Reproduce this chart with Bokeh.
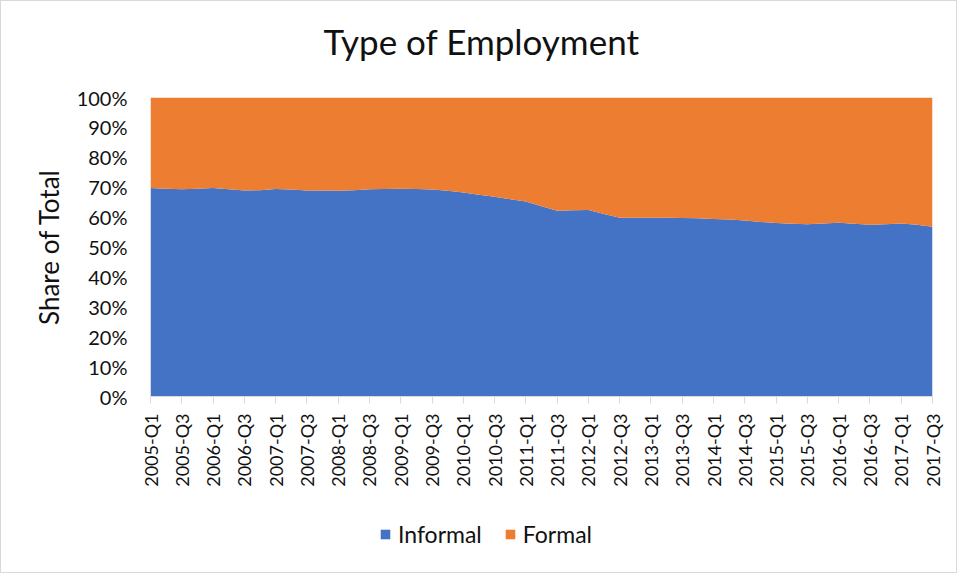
from math import pi
from bokeh.plotting import figure
from bokeh.layouts import column
from bokeh.models import ColumnDataSource, FixedTicker, Label, Legend, LegendItem, PrintfTickFormatter, Range1d
from bokeh.embed import file_html
from bokeh.resources import INLINE

quarters = [
    "2005-Q1", "2005-Q2", "2005-Q3", "2005-Q4",
    "2006-Q1", "2006-Q2", "2006-Q3", "2006-Q4",
    "2007-Q1", "2007-Q2", "2007-Q3", "2007-Q4",
    "2008-Q1", "2008-Q2", "2008-Q3", "2008-Q4",
    "2009-Q1", "2009-Q2", "2009-Q3", "2009-Q4",
    "2010-Q1", "2010-Q2", "2010-Q3", "2010-Q4",
    "2011-Q1", "2011-Q2", "2011-Q3", "2011-Q4",
    "2012-Q1", "2012-Q2", "2012-Q3", "2012-Q4",
    "2013-Q1", "2013-Q2", "2013-Q3", "2013-Q4",
    "2014-Q1", "2014-Q2", "2014-Q3", "2014-Q4",
    "2015-Q1", "2015-Q2", "2015-Q3", "2015-Q4",
    "2016-Q1", "2016-Q2", "2016-Q3", "2016-Q4",
    "2017-Q1", "2017-Q2", "2017-Q3",
]

informal = [
    69.7, 69.5, 69.3, 69.5, 69.7, 69.3, 68.9, 69.0, 69.4, 69.2,
    68.9, 68.9, 68.8, 69.0, 69.3, 69.4, 69.5, 69.4, 69.2, 68.8,
    68.2, 67.5, 66.8, 66.0, 65.2, 63.6, 62.1, 62.3, 62.4, 61.0,
    59.8, 59.8, 59.8, 59.8, 59.7, 59.6, 59.4, 59.2, 58.9, 58.4,
    58.0, 57.8, 57.6, 57.9, 58.1, 57.8, 57.4, 57.6, 57.9, 57.4,
    56.8,
]

formal = [
    30.3, 30.5, 30.7, 30.5, 30.3, 30.7, 31.1, 31.0, 30.6, 30.8,
    31.1, 31.1, 31.2, 31.0, 30.7, 30.6, 30.5, 30.6, 30.8, 31.2,
    31.8, 32.5, 33.2, 34.0, 34.8, 36.4, 37.9, 37.7, 37.6, 39.0,
    40.2, 40.2, 40.2, 40.2, 40.3, 40.4, 40.6, 40.8, 41.1, 41.6,
    42.0, 42.2, 42.4, 42.1, 41.9, 42.2, 42.6, 42.4, 42.1, 42.6,
    43.2,
]

title_text = "Type of Employment"
y_title = "Share of Total"
series_names = ["Informal", "Formal"]
series_colors = ["#4472C4", "#ED7D31"]
y_ticks = [0, 10, 20, 30, 40, 50, 60, 70, 80, 90, 100]

FONT = "Lato"
TEXT = "#111111"
BORDER = "1px solid #d9d9d9"
W = 957


def strip(height):
    f = figure(
        width=W, height=height,
        x_range=Range1d(0, 1), y_range=Range1d(0, 1),
        output_backend="svg", toolbar_location=None, min_border=0,
    )
    f.axis.visible = False
    f.xgrid.visible = False
    f.ygrid.visible = False
    f.outline_line_color = None
    return f


# ---- title strip ----
p0 = strip(80)
p0.styles = {"border": BORDER, "border-bottom": "none"}
p0.add_layout(Label(
    x=331, y=41, x_units="screen", y_units="screen",
    text=title_text, text_align="center", text_baseline="alphabetic",
    text_font=FONT, text_font_size="35px", text_color=TEXT,
))

# ---- main chart ----
idx = list(range(len(quarters)))
src = ColumnDataSource(data=dict(x=idx, informal=informal, formal=formal))

p = figure(
    width=W, height=420,
    x_range=Range1d(0, len(quarters) - 1), y_range=Range1d(0, 100),
    output_backend="svg", toolbar_location=None,
    min_border_left=149, min_border_right=26,
    min_border_top=17, min_border_bottom=104,
)
p.styles = {"border-left": BORDER, "border-right": BORDER}

rs = p.varea_stack(stackers=["informal", "formal"], x="x", source=src, color=series_colors)

p.xgrid.visible = False
p.ygrid.visible = False
p.outline_line_color = None

xa = p.xaxis[0]
tick_idx = idx[::2]
xa.ticker = FixedTicker(ticks=tick_idx)
xa.major_label_overrides = {i: quarters[i] for i in tick_idx}
xa.major_label_orientation = pi / 2
xa.axis_line_color = "#d9d9d9"
xa.major_tick_line_color = "#d9d9d9"
xa.major_tick_in = 0
xa.major_tick_out = 7
xa.minor_tick_line_color = None
xa.major_label_standoff = 10
xa.major_label_text_font = FONT
xa.major_label_text_font_size = "18px"
xa.major_label_text_color = TEXT

ya = p.yaxis[0]
ya.ticker = FixedTicker(ticks=y_ticks)
ya.formatter = PrintfTickFormatter(format="%d%%")
ya.axis_line_color = None
ya.major_tick_line_color = None
ya.minor_tick_line_color = None
ya.major_label_standoff = 17
ya.major_label_text_font = FONT
ya.major_label_text_font_size = "20px"
ya.major_label_text_color = TEXT
ya.axis_label = y_title
ya.axis_label_text_font = FONT
ya.axis_label_text_font_size = "26px"
ya.axis_label_text_font_style = "normal"
ya.axis_label_text_color = TEXT
ya.axis_label_standoff = 9

# ---- legend strip ----
p2 = strip(73)
p2.styles = {"border": BORDER, "border-top": "none"}

dummies = [
    p2.varea(x=[0, 0], y1=[0, 0], y2=[0, 0], color=series_colors[k])
    for k in range(2)
]

legend = Legend(
    items=[LegendItem(label=series_names[k], renderers=[dummies[k]]) for k in range(2)],
    location=(229, 25),
    orientation="horizontal",
    padding=2, spacing=22, label_standoff=7,
    glyph_width=12, glyph_height=12, label_height=20,
    label_text_font=FONT, label_text_font_size="23px", label_text_color=TEXT,
    border_line_color=None, background_fill_alpha=0,
)
p2.add_layout(legend)

layout = column(p0, p, p2, spacing=0)
open("out.html", "w").write(file_html(layout, INLINE))
